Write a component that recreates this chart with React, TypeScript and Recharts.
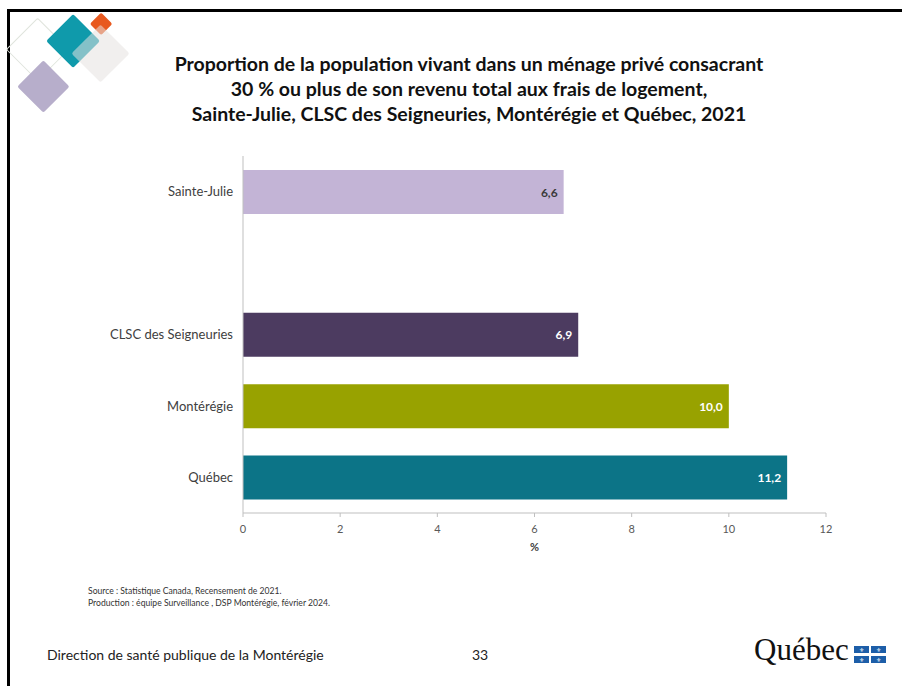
import { BarChart, Bar, XAxis, YAxis, Cell, LabelList } from "recharts";

const categories = ["Sainte-Julie", "", "CLSC des Seigneuries", "Montérégie", "Québec"];
const values: (number | null)[] = [6.6, null, 6.9, 10.0, 11.2];
const barColors = ["#c3b4d6", "#ffffff", "#4c3b60", "#98a200", "#0c7487"];
const labelColors = ["#3a3a3a", "#ffffff", "#ffffff", "#ffffff", "#ffffff"];
const xTicks = [0, 2, 4, 6, 8, 10, 12];

const titleLines = [
  "Proportion de la population vivant dans un ménage privé consacrant",
  "30 % ou plus de son revenu total aux frais de logement,",
  "Sainte-Julie, CLSC des Seigneuries, Montérégie et Québec, 2021",
];

const chartData = categories.map((name, i) => ({ name, value: values[i] }));

const FONT = "Lato, 'Open Sans', sans-serif";
const fmt = (v: number) => v.toFixed(1).replace(".", ",");

function ValueLabel(props: any) {
  const { x, y, width, height, value, index } = props;
  if (value == null) return null;
  const color = labelColors[index ?? 0] ?? "#ffffff";
  return (
    <text
      x={Number(x) + Number(width) - 6}
      y={Number(y) + Number(height) / 2}
      textAnchor="end"
      dominantBaseline="central"
      fill={color}
      fontSize={12}
      fontWeight={700}
      fontFamily={FONT}
    >
      {fmt(Number(value))}
    </text>
  );
}

function Diamond({ cx, cy, half, style }: { cx: number; cy: number; half: number; style: any }) {
  const side = half * Math.SQRT2;
  return (
    <div
      style={{
        position: "absolute",
        left: cx - side / 2,
        top: cy - side / 2,
        width: side,
        height: side,
        transform: "rotate(45deg)",
        borderRadius: 2,
        boxSizing: "border-box",
        ...style,
      }}
    />
  );
}

function Flag() {
  const cell = { width: 15, height: 7, background: "#1d5ea8", color: "#fff", fontSize: 6, lineHeight: "7px", textAlign: "center" as const };
  return (
    <div style={{ position: "absolute", left: 854, top: 646, width: 33, display: "flex", flexWrap: "wrap", gap: 2, rowGap: 3 }}>
      {[0, 1, 2, 3].map((k) => (
        <div key={k} style={cell}>⚜</div>
      ))}
    </div>
  );
}

export default function App() {
  return (
    <div style={{ position: "fixed", left: 0, top: 0, width: 902, height: 686, overflow: "hidden", background: "#fff", fontFamily: FONT }}>
      <style>{"html,body{margin:0;overflow:hidden;}"}</style>
      {/* slide frame */}
      <div style={{ position: "absolute", left: 7, top: 9, right: 0, bottom: 0, borderLeft: "3px solid #000", borderTop: "3px solid #000" }} />

      {/* decoration */}
      <Diamond cx={38} cy={50} half={32} style={{ border: "1.5px solid #dfe4dc" }} />
      <Diamond cx={43} cy={86} half={26} style={{ background: "#b7aecb" }} />
      <Diamond cx={73} cy={41} half={27} style={{ background: "#0f9aab" }} />
      <Diamond cx={101} cy={24} half={11.5} style={{ background: "#e8591f" }} />
      <Diamond cx={101} cy={54} half={29} style={{ background: "rgba(230,226,224,0.55)" }} />

      {/* title */}
      <div style={{ position: "absolute", left: 0, width: 938, top: 51, textAlign: "center", fontWeight: 700, fontSize: 19.5, lineHeight: "25px", color: "#111" }}>
        {titleLines.map((t) => (
          <div key={t}>{t}</div>
        ))}
      </div>

      <div style={{ position: "absolute", left: 0, top: 0 }}>
        <BarChart
          width={902}
          height={686}
          layout="vertical"
          data={chartData}
          margin={{ top: 156, right: 76, left: 83, bottom: 133 }}
        >
          <XAxis
            type="number"
            domain={[0, 12]}
            ticks={xTicks}
            interval={0}
            height={40}
            stroke="#bfbfbf"
            tickSize={4}
            tickMargin={8}
            tick={{ fill: "#595959", fontSize: 11, fontFamily: FONT }}
            label={{ value: "%", position: "insideBottom", offset: 2, fill: "#404040", fontSize: 11, fontWeight: 700, fontFamily: FONT }}
          />
          <YAxis
            type="category"
            dataKey="name"
            width={160}
            stroke="#bfbfbf"
            tickLine={false}
            tickMargin={4}
            tick={{ fill: "#404040", fontSize: 13, fontFamily: FONT }}
          />
          <Bar dataKey="value" barSize={44} isAnimationActive={false}>
            {chartData.map((_, i) => (
              <Cell key={`cell-${i}`} fill={barColors[i]} />
            ))}
            <LabelList dataKey="value" content={ValueLabel} />
          </Bar>
        </BarChart>
      </div>

      {/* source */}
      <div style={{ position: "absolute", left: 88, top: 585, fontSize: 8.6, lineHeight: "12px", color: "#333" }}>
        <div>Source : Statistique Canada, Recensement de 2021.</div>
        <div>Production : équipe Surveillance , DSP Montérégie, février 2024.</div>
      </div>

      {/* footer */}
      <div style={{ position: "absolute", left: 47, top: 646, fontSize: 14, color: "#222" }}>
        Direction de santé publique de la Montérégie
      </div>
      <div style={{ position: "absolute", left: 472, top: 646, fontSize: 14, color: "#222" }}>33</div>
      <div style={{ position: "absolute", left: 754, top: 632, fontSize: 31, fontFamily: "'Liberation Serif', serif", color: "#111" }}>
        Québec
      </div>
      <Flag />
    </div>
  );
}
